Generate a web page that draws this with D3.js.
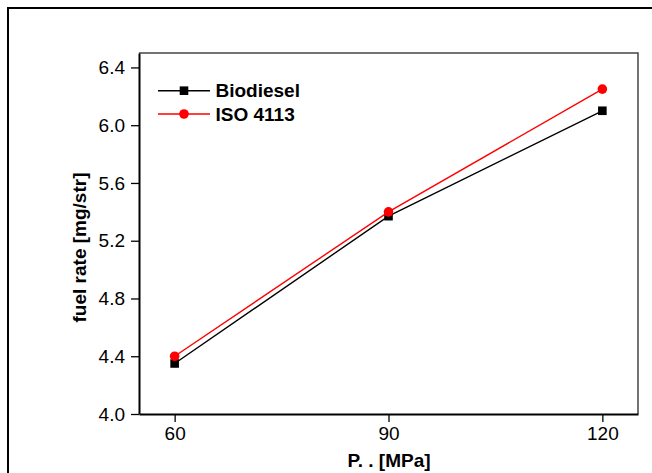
<!DOCTYPE html>
<html>
<head>
<meta charset="utf-8">
<script src="https://cdn.jsdelivr.net/npm/d3@7"></script>
<style>
  html, body { margin: 0; padding: 0; background: #fff; }
  svg { display: block; font-family: "Liberation Sans", Arial, sans-serif; }
</style>
</head>
<body>
<svg id="chart" width="652" height="473"></svg>
<script>
// ====== Data ======
const pressures = [60, 90, 120];
const biodiesel = [4.35, 5.37, 6.10];
const iso4113 = [4.40, 5.40, 6.25];
const yTicks = [4.0, 4.4, 4.8, 5.2, 5.6, 6.0, 6.4];
const seriesNames = ["Biodiesel", "ISO 4113"];

const svg = d3.select("#chart");

// outer frame (cut by the picture edge on right/bottom)
svg.append("rect")
  .attr("x", 8).attr("y", 8)
  .attr("width", 720).attr("height", 520)
  .attr("fill", "none").attr("stroke", "#000").attr("stroke-width", 2);

// plot area
const plotL = 139, plotR = 638, plotT = 53, plotB = 414;

const x = d3.scaleLinear().domain([55, 125]).range([plotL, plotR]);
const y = d3.scaleLinear().domain([4.0, 6.5]).range([plotB, plotT]);

// top/right border
svg.append("path")
  .attr("d", `M${plotL},${plotT}H${plotR}V${plotB}`)
  .attr("fill", "none").attr("stroke", "#444").attr("stroke-width", 1.5);

const yAxis = svg.append("g")
  .attr("transform", `translate(${plotL},0)`)
  .call(d3.axisLeft(y).tickValues(yTicks).tickFormat(d3.format(".1f"))
    .tickSize(8).tickSizeOuter(0).tickPadding(6));

const xAxis = svg.append("g")
  .attr("transform", `translate(0,${plotB})`)
  .call(d3.axisBottom(x).tickValues(pressures)
    .tickSize(8).tickSizeOuter(0).tickPadding(5));

[yAxis, xAxis].forEach(a => {
  a.select(".domain").attr("stroke", "#000").attr("stroke-width", 2);
  a.selectAll(".tick line").attr("stroke", "#000").attr("stroke-width", 1.3);
  a.selectAll(".tick text").attr("fill", "#000")
    .style("font-size", "19px").style("font-family", "Liberation Sans, Arial, sans-serif");
});

// axis titles
svg.append("text")
  .attr("transform", "translate(86,247.5) rotate(-90)")
  .attr("text-anchor", "middle")
  .style("font-size", "19px").style("font-weight", "bold")
  .text("fuel rate [mg/str]");

svg.append("text")
  .attr("x", 389).attr("y", 466.5)
  .attr("text-anchor", "middle")
  .style("font-size", "19px").style("font-weight", "bold")
  .text("P. . [MPa]");

// ====== Series ======
const line = d3.line()
  .x((d, i) => x(pressures[i]))
  .y(d => y(d));

// biodiesel (black squares)
svg.append("path")
  .datum(biodiesel)
  .attr("d", line)
  .attr("fill", "none").attr("stroke", "#000").attr("stroke-width", 1.4);

svg.selectAll(".sq")
  .data(biodiesel)
  .join("rect")
  .attr("class", "sq")
  .attr("x", (d, i) => x(pressures[i]) - 4.3)
  .attr("y", d => y(d) - 4.3)
  .attr("width", 8.6).attr("height", 8.6)
  .attr("fill", "#000");

// ISO 4113 (red circles)
svg.append("path")
  .datum(iso4113)
  .attr("d", line)
  .attr("fill", "none").attr("stroke", "#f00").attr("stroke-width", 1.4);

svg.selectAll(".dot")
  .data(iso4113)
  .join("circle")
  .attr("class", "dot")
  .attr("cx", (d, i) => x(pressures[i]))
  .attr("cy", d => y(d))
  .attr("r", 4.8)
  .attr("fill", "#f00");

// ====== Legend ======
const legend = svg.append("g");
const rows = [
  { name: seriesNames[0], color: "#000", shape: "square", cy: 90.7 },
  { name: seriesNames[1], color: "#f00", shape: "circle", cy: 114 },
];
rows.forEach(r => {
  legend.append("line")
    .attr("x1", 158).attr("x2", 210)
    .attr("y1", r.cy).attr("y2", r.cy)
    .attr("stroke", r.color).attr("stroke-width", 1.4);
  if (r.shape === "square") {
    legend.append("rect")
      .attr("x", 184 - 4.3).attr("y", r.cy - 4.3)
      .attr("width", 8.6).attr("height", 8.6)
      .attr("fill", r.color);
  } else {
    legend.append("circle")
      .attr("cx", 184).attr("cy", r.cy).attr("r", 4.8)
      .attr("fill", r.color);
  }
  legend.append("text")
    .attr("x", 215.5).attr("y", r.cy + 6.7)
    .style("font-size", "19px").style("font-weight", "bold")
    .text(r.name);
});
</script>
</body>
</html>
